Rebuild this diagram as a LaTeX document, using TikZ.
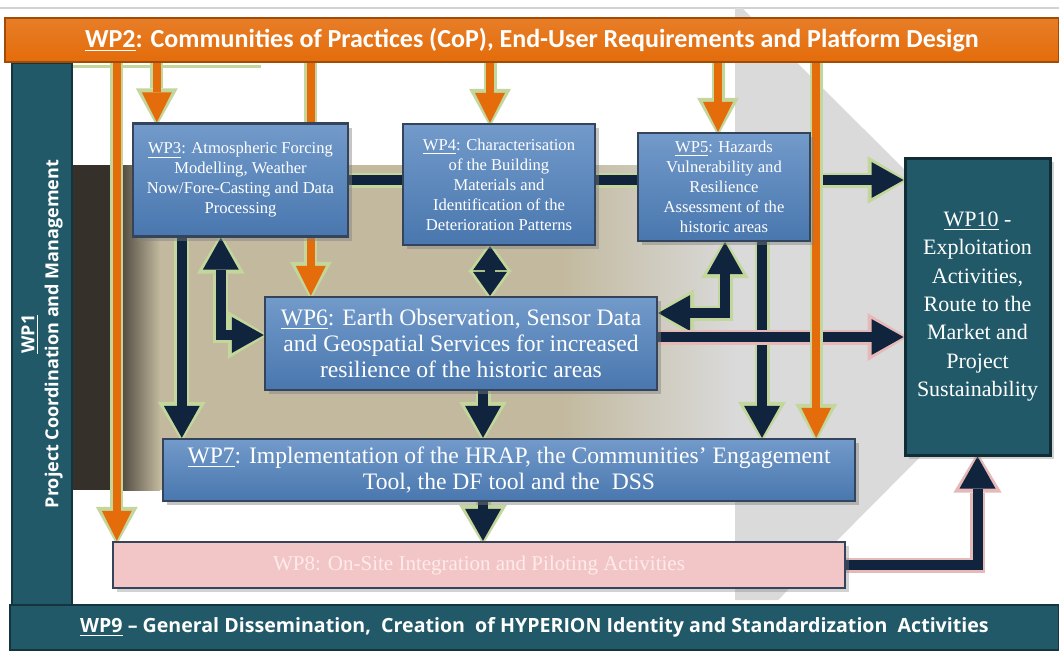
\documentclass[tikz,border=0pt]{standalone}
\usepackage{fontspec}
\setmainfont{Liberation Serif}
\newfontfamily\barfont{Carlito}
\newfontfamily\bandfont{Open Sans}
\usetikzlibrary{arrows.meta,shadows}

\definecolor{wporange}{HTML}{E46C0A}
\definecolor{wpteal}{HTML}{215968}
\definecolor{wpblue}{HTML}{4F81BD}
\definecolor{wpnavy}{HTML}{10243E}
\definecolor{glowgreen}{HTML}{C3D69B}
\definecolor{glowpink}{HTML}{E6B9B8}
\definecolor{wppink}{HTML}{F2C6C6}
\definecolor{tanfill}{HTML}{C2B99E}
\definecolor{tandark}{HTML}{35302A}
\definecolor{chevron}{HTML}{DADADA}

\pgfdeclarelayer{back}
\pgfdeclarelayer{links}
\pgfsetlayers{back,links,main}

\tikzset{
  Navy Tip/.tip={Triangle[length=16pt,width=18pt,line width=0pt]},
  Navy Glow/.tip={Triangle[length=20pt,width=24pt,line width=0pt]},
  Short Tip/.tip={Triangle[length=12pt,width=17pt,line width=0pt]},
  Short Glow/.tip={Triangle[length=15pt,width=22pt,line width=0pt]},
  Orange Tip/.tip={Triangle[length=15pt,width=15pt,line width=0pt]},
  Orange Glow/.tip={Triangle[length=19pt,width=21pt,line width=0pt]}
}

\begin{document}
\begin{tikzpicture}[x=0.5pt, y=-0.5pt,
  wpbox/.style={draw=wpnavy!85, line width=1.2pt, top color=wpblue!80!white,
    bottom color=wpblue!92!black, text=white, align=center, inner sep=2pt,
    drop shadow={shadow xshift=2pt, shadow yshift=-2pt, opacity=.45}},
  smallbox/.style={wpbox, font=\fontsize{8.3}{10}\selectfont},
  widebox/.style={wpbox, font=\fontsize{11.8}{13}\selectfont},
  tealbar/.style={draw=wpteal!60!black, line width=1pt, fill=wpteal, text=white, align=center},
  orangearrow/.style={draw=wporange, line width=4pt, -{Orange Tip},
    preaction={draw=glowgreen, line width=6.5pt, -{Orange Glow}, shorten >=-2pt}},
  navyarrow/.style={draw=wpnavy, line width=5pt, -{Navy Tip},
    preaction={draw=#1, line width=7.5pt, -{Navy Glow}, shorten >=-2pt}},
  navyarrow/.default=glowgreen,
  navyboth/.style={draw=wpnavy, line width=5pt, {Navy Tip}-{Navy Tip},
    preaction={draw=glowgreen, line width=7.5pt, {Navy Glow}-{Navy Glow},
      shorten >=-2pt, shorten <=-2pt}},
  shortboth/.style={draw=wpnavy, line width=5pt, {Short Tip}-{Short Tip},
    preaction={draw=glowgreen, line width=7.5pt, {Short Glow}-{Short Glow},
      shorten >=-2pt, shorten <=-2pt}}
]
\useasboundingbox (0,0) rectangle (1059,650);

\node[tealbar, minimum width=524.5pt, minimum height=22.5pt,
  font=\bandfont\bfseries\fontsize{9.8}{11}\selectfont] (wp9) at (534.5,627.5)
  {\underline{WP9} – General Dissemination,\ \ Creation\ \ of HYPERION Identity and Standardization\ \ Activities};
\node[tealbar, rotate=90, minimum width=271pt, minimum height=30pt,
  font=\bandfont\bfseries\fontsize{9}{12}\selectfont] (wp1) at (42,334)
  {\underline{WP1}\\Project Coordination and Management};
\node[draw=wporange!70!black, line width=1pt, top color=wporange!88!white, bottom color=wporange,
  minimum width=527pt, minimum height=22pt, text=white,
  font=\barfont\bfseries\fontsize{13}{15}\selectfont] (wp2) at (532,40)
  {\underline{WP2}: Communities of Practices (CoP), End-User Requirements and Platform Design};

\node[smallbox, minimum width=107.5pt, minimum height=56.5pt] (wp3) at (240.5,180)
  {\underline{WP3}: Atmospheric Forcing\\Modelling, Weather\\Now/Fore-Casting and Data\\Processing};
\node[smallbox, minimum width=96pt, minimum height=60.5pt] (wp4) at (499,184.5)
  {\underline{WP4}: Characterisation\\of the Building\\Materials and\\Identification of the\\Deterioration Patterns};
\node[smallbox, minimum width=86pt, minimum height=54pt] (wp5) at (724,187)
  {\underline{WP5}: Hazards\\Vulnerability and\\Resilience\\Assessment of the\\historic areas};
\node[widebox, minimum width=196pt, minimum height=46.5pt] (wp6) at (461,343.5)
  {\underline{WP6}: Earth Observation, Sensor Data\\and Geospatial Services for increased\\resilience of the historic areas};
\node[widebox, minimum width=346pt, minimum height=31pt] (wp7) at (509,470)
  {\underline{WP7}: Implementation of the HRAP, the Communities' Engagement\\Tool, the DF tool and the\ \ DSS};
\node[draw=wpnavy!85, line width=1.2pt, fill=wppink, text=red!8!white,
  minimum width=366pt, minimum height=23pt, font=\fontsize{10.5}{12}\selectfont,
  drop shadow={shadow xshift=2pt, shadow yshift=-2pt, opacity=.35}] (wp8) at (479,565)
  {WP8: On-Site Integration and Piloting Activities};
\node[tealbar, draw=wpteal!50!black, line width=1.5pt, minimum width=72.5pt, minimum height=148.5pt,
  font=\fontsize{11}{14.2}\selectfont,
  drop shadow={shadow xshift=2pt, shadow yshift=-2pt, opacity=.35}] (wp10) at (977.5,306.5)
  {\underline{WP10} -\\Exploitation\\Activities,\\Route to the\\Market and\\Project\\Sustainability};

\begin{pgfonlayer}{back}
\fill[white] (0,0) rectangle (1059,650);
\draw[gray!35, line width=1pt] (0,8) -- (1059,8);
\fill[chevron] (735,8) -- (742,8) -- (905,170) -- (905,445) -- (920,457) -- (778,600) -- (735,600) -- cycle;
\fill[tandark] (72,165) rectangle (112,490);
\shade[left color=tandark, right color=tanfill] (112,165) rectangle (160,490);
\fill[tanfill] (160,165) rectangle (560,490);
\shade[left color=tanfill, right color=chevron] (560,165) rectangle (736,490);
\draw[glowgreen, line width=1.5pt] (wp1.north east |- wp2.south) ++(0,3) -- ++(250,0);
\end{pgfonlayer}

\begin{pgfonlayer}{links}
\coordinate (n3a) at ([xshift=25pt]wp3.south west);
\coordinate (n3b) at ([xshift=44.5pt]wp3.south west);
\coordinate (n4) at ([xshift=-4.5pt]wp4.south);
\coordinate (n5a) at ([xshift=0.5pt]wp5.south);
\coordinate (n5b) at ([xshift=19pt]wp5.south);
\coordinate (n6) at ([xshift=11pt]wp6.south);
\coordinate (n7) at ([xshift=-13pt]wp7.south);
\draw[navyarrow] (wp3.east) -- (wp3.east -| wp10.west);
\draw[navyarrow] (n3a) -- (n3a |- wp7.north);
\draw[navyboth] (n3b) |- ([yshift=4.25pt]wp6.west);
\draw[shortboth] (n4) -- (n4 |- wp6.north);
\draw[navyboth] (n5a) |- ([yshift=15.25pt]wp6.east);
\draw[navyarrow] (n5b) -- (n5b |- wp7.north);
\draw[navyarrow=glowpink] ([yshift=3.25pt]wp6.east) -- ([yshift=3.25pt]wp6.east -| wp10.west);
\draw[navyarrow] (n6) -- (n6 |- wp7.north);
\draw[navyarrow] (n7) -- (n7 |- wp8.north);
\draw[navyarrow=glowpink] (wp8.east) -| (wp10.south);

\coordinate (o3) at ([xshift=12.5pt]wp3.north west);
\coordinate (o4) at ([xshift=-4.5pt]wp4.north);
\coordinate (o5) at ([xshift=-3pt]wp5.north);
\coordinate (o6) at ([xshift=23.5pt]wp6.north west);
\coordinate (o7) at ([xshift=-20pt]wp7.north east);
\coordinate (o8) at ([xshift=2.5pt]wp8.north west);
\draw[orangearrow] (o8 |- wp2.south) -- (o8);
\draw[orangearrow] (o3 |- wp2.south) -- (o3);
\draw[orangearrow] (o6 |- wp2.south) -- (o6);
\draw[orangearrow] (o4 |- wp2.south) -- (o4);
\draw[orangearrow] (o5 |- wp2.south) -- (o5);
\draw[orangearrow] (o7 |- wp2.south) -- (o7);
\end{pgfonlayer}
\end{tikzpicture}
\end{document}
